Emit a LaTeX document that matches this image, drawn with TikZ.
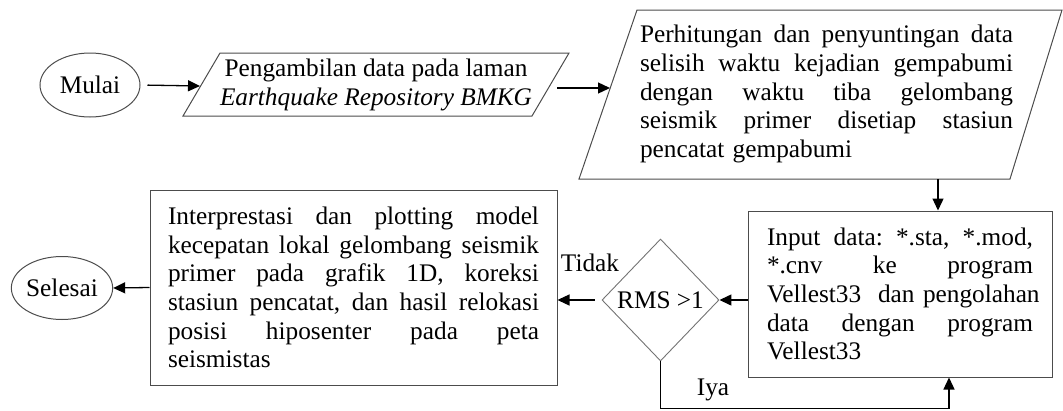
\documentclass[tikz,border=0pt]{standalone}
\usepackage{fontspec}
\setmainfont{Liberation Serif}
\usetikzlibrary{shapes.geometric,arrows.meta}
\newcommand\jl[2]{\leavevmode\hbox to #1{#2}\\}
\newcommand\g{\hfill\ \hfill}
\begin{document}
\begin{tikzpicture}[x=1pt,y=-1pt,
  txt/.style={font=\fontsize{25.3}{28.6}\selectfont},
  shp/.style={draw=black!70,line width=1pt},
  arr/.style={draw=black,line width=1.3pt,-{Triangle[length=12pt,width=11pt]}},
  term/.style={shp,ellipse,minimum width=100pt,minimum height=64pt,inner sep=0pt,txt},
  procbox/.style={shp,rectangle,inner sep=0pt,txt,align=left},
  lbl/.style={txt,inner sep=0pt}]
\useasboundingbox (0,0) rectangle (1063,410);

% start
\node[term] (mulai) at (90,85) {Mulai};

% parallelogram 1
\draw[shp] (220,53) -- (569,53) -- (532,116) -- (183,116) -- cycle;
\node[lbl,align=center] (p1) at (376,85) {Pengambilan data pada laman\\\textit{Earthquake Repository BMKG}};
\coordinate (p1w) at (200,86);
\coordinate (p1e) at (548,88);

% parallelogram 2
\draw[shp] (637,10) -- (1062,10) -- (1010,179) -- (579,179) -- cycle;
\node[lbl,text width=373pt,align=left] (p2) at (826.5,94) {%
\jl{373pt}{Perhitungan\g dan\g penyuntingan\g data}%
\jl{373pt}{selisih\g waktu\g kejadian\g gempabumi}%
\jl{373pt}{dengan\g waktu\g tiba\g gelombang}%
\jl{373pt}{seismik\g primer\g disetiap\g stasiun}%
pencatat gempabumi};
\coordinate (p2w) at (610,88);
\coordinate (p2s) at (938,179);

% input box
\node[procbox,minimum width=304pt,minimum height=166pt,text width=266pt] (input) at (900,294) {%
\jl{266pt}{Input\g data:\g *.sta,\g *.mod,}%
\jl{266pt}{*.cnv\g ke\g program}%
\jl{266pt}{Vellest33\ \ dan pengolahan}%
\jl{266pt}{data\g dengan\g program}%
Vellest33};

% decision
\node[diamond,draw=black!55,line width=0.9pt,minimum width=117pt,minimum height=122pt,inner sep=0pt,txt] (rms) at (660.5,300) {RMS >1};

% interpretation box
\node[procbox,minimum width=407pt,minimum height=195pt,text width=371pt] (interp) at (353.5,287.5) {%
\jl{371pt}{Interprestasi\g dan\g plotting\g model}%
\jl{371pt}{kecepatan\g lokal\g gelombang\g seismik}%
\jl{371pt}{primer\g pada\g grafik\g 1D,\g koreksi}%
\jl{371pt}{stasiun\g pencatat,\g dan\g hasil\g relokasi}%
\jl{371pt}{posisi\g hiposenter\g pada\g peta}%
seismistas};

% end
\node[term,minimum height=63pt] (selesai) at (62,288) {Selesai};

% labels
\node[lbl] (tidak) at (590,263) {Tidak};
\node[lbl] (iya) at (713,390) {Iya};

% connectors
\draw[arr,shorten <=7pt] (mulai.east) -- (p1w);
\draw[arr,shorten <=9pt] (p1e) -- (p2w);
\draw[arr] (p2s) -- (p2s |- input.north);
\draw[arr] (input.west |- rms.east) -- (rms.east);
\draw[arr,shorten <=7pt] (rms.west) -- (interp.east |- rms.west);
\draw[arr] (interp.west) -- (selesai.east);
\draw[arr] (rms.south) -- ++(0,47) -| ([xshift=49pt]input.south);
\end{tikzpicture}
\end{document}
